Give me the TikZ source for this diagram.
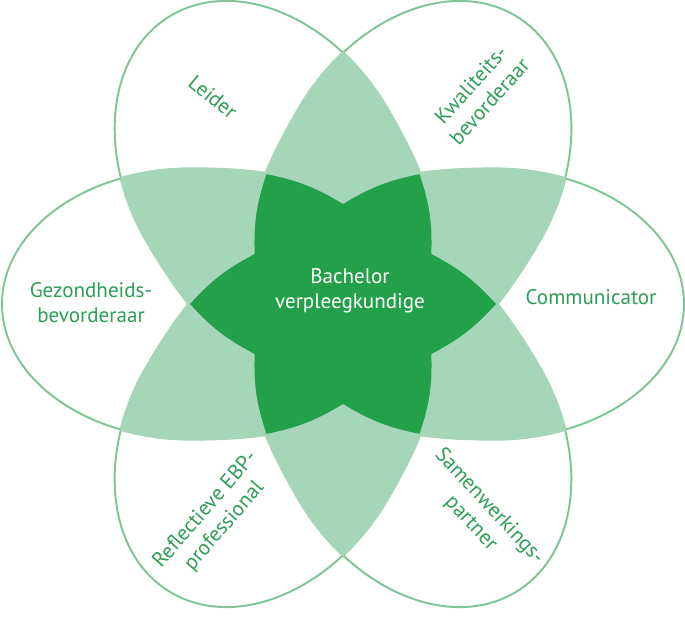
\documentclass[tikz,border=0pt]{standalone}
\usepackage{fontspec}
\setmainfont{PT Sans}
\definecolor{petalline}{HTML}{7DC496}
\definecolor{overlap}{HTML}{A6D6B8}
\definecolor{core}{HTML}{22A04A}
\definecolor{roletext}{HTML}{2E9E55}

% one petal, pointing right: elliptic outer half, fuller inner half
\newcommand{\petalpath}{(152,-138) arc[start angle=-90, end angle=90, x radius=3.78cm, y radius=2.76cm]
  .. controls (10.25,138) and (-37,103.5) .. (-37,0)
  .. controls (-37,-103.5) and (10.25,-138) .. cycle}

\tikzset{
  petal line/.style={draw=petalline, line width=1.1pt},
  overlap fill/.style={fill=overlap, draw=overlap, line width=1.6pt},
  star edge/.style={bend left=10},
  role/.style={text=roletext, align=center, font=\fontsize{12}{14.2}\selectfont}
}

\begin{document}
\begin{tikzpicture}[x=0.02cm,y=0.02cm]
\useasboundingbox (0,0) rectangle (685,630);

% six petals, outlines first, overlaps on top
\begin{scope}[shift={(343,326)}, yscale=0.98]
  \foreach \a in {0,60,...,300}
    \draw[petal line, rotate=\a] \petalpath;
  \foreach \a in {0,60,...,300}
    \foreach \d in {60,120,...,300} {
      \begin{scope}
        \clip[rotate=\a] \petalpath;
        \filldraw[overlap fill, rotate=\a+\d] \petalpath;
      \end{scope}
    }

  % star
  \fill[core] (120:153) to[star edge] (90:102) to[star edge] (60:153)
    to[star edge] (30:102) to[star edge] (0:153)
    to[star edge] (-30:102) to[star edge] (-60:153)
    to[star edge] (-90:102) to[star edge] (-120:153)
    to[star edge] (-150:102) to[star edge] (180:153)
    to[star edge] (150:102) to[star edge] (120:153) -- cycle;
\end{scope}

% labels
\node[role, rotate=-39] (leider) at (213,533) {Leider};
\node[role, rotate=48] (kwaliteit) at (480,537) {Kwaliteits-\\bevorderaar};
\node[role] (gezondheid) at (91,327) {Gezondheids-\\bevorderaar};
\node[role] (communicator) at (591,333) {Communicator};
\node[role, rotate=49] (reflectie) at (215,112) {Reflectieve EBP-\\professional};
\node[role, rotate=-47] (samenwerking) at (480,115) {Samenwerkings-\\partner};
\node[role, text=white] (bachelor) at (350,339) {Bachelor\\verpleegkundige};
\end{tikzpicture}
\end{document}
